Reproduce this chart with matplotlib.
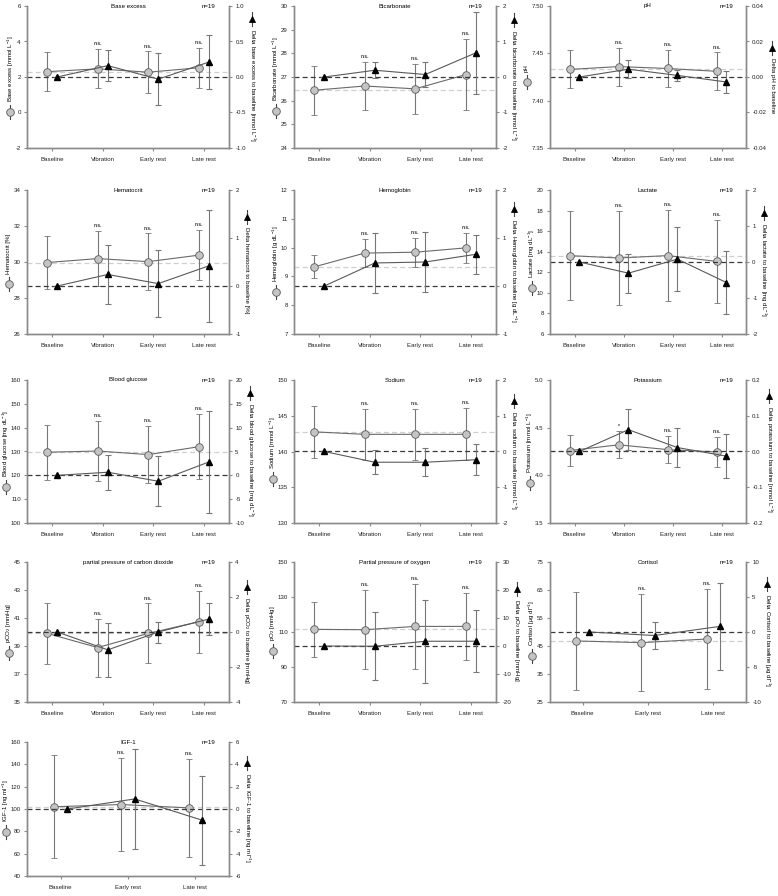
import numpy as np
import matplotlib.pyplot as plt

plt.rcParams['font.family'] = ['Liberation Sans', 'DejaVu Sans']
plt.rcParams['mathtext.fontset'] = 'custom'
plt.rcParams['mathtext.rm'] = 'Liberation Sans'
plt.rcParams['mathtext.it'] = 'Liberation Sans:italic'

cats4 = ['Baseline', 'Vibration', 'Early rest', 'Late rest']
cats3 = ['Baseline', 'Early rest', 'Late rest']
sig4 = ['', 'n.s.', 'n.s.', 'n.s.']
sig3 = ['', 'n.s.', 'n.s.']

# absolute values (circles) and change to baseline (triangles), mean and SD
be_mean = [2.30, 2.46, 2.27, 2.52]
be_sd = [1.10, 1.10, 1.17, 1.13]
be_dmean = [0.0, 0.16, -0.03, 0.21]
be_dsd = [0.0, 0.22, 0.37, 0.38]

hco3_mean = [26.44, 26.62, 26.50, 27.10]
hco3_sd = [1.03, 1.03, 1.06, 1.50]
hco3_dmean = [0.0, 0.19, 0.07, 0.68]
hco3_dsd = [0.0, 0.22, 0.36, 1.15]

ph_mean = [7.433, 7.436, 7.434, 7.431]
ph_sd = [0.020, 0.020, 0.020, 0.020]
ph_dmean = [0.0, 0.0044, 0.0009, -0.0028]
ph_dsd = [0.0, 0.0050, 0.0033, 0.0060]

hct_mean = [29.97, 30.19, 30.02, 30.38]
hct_sd = [1.46, 1.55, 1.57, 1.40]
hct_dmean = [0.0, 0.24, 0.05, 0.42]
hct_dsd = [0.0, 0.61, 0.69, 1.16]

hb_mean = [9.33, 9.81, 9.84, 9.99]
hb_sd = [0.40, 0.50, 0.50, 0.52]
hb_dmean = [0.0, 0.48, 0.50, 0.66]
hb_dsd = [0.0, 0.63, 0.62, 0.40]

lac_mean = [13.62, 13.39, 13.62, 13.06]
lac_sd = [4.30, 4.60, 4.45, 4.00]
lac_dmean = [0.0, -0.31, 0.08, -0.57]
lac_dsd = [0.0, 0.54, 0.88, 0.88]

glu_mean = [129.7, 130.2, 128.7, 132.0]
glu_sd = [11.6, 12.5, 11.9, 13.6]
glu_dmean = [0.0, 0.65, -1.24, 2.8]
glu_dsd = [0.0, 3.7, 5.2, 10.7]

na_mean = [142.75, 142.4, 142.4, 142.4]
na_sd = [3.65, 3.6, 3.6, 3.65]
na_dmean = [0.0, -0.30, -0.30, -0.23]
na_dsd = [0.0, 0.33, 0.39, 0.44]

k_mean = [4.26, 4.32, 4.27, 4.245]
k_sd = [0.16, 0.14, 0.145, 0.155]
k_dmean = [0.0, 0.061, 0.011, -0.013]
k_dsd = [0.0, 0.057, 0.055, 0.061]
k_sig = ['', '*', 'n.s.', 'n.s.']

pco2_mean = [39.9, 38.89, 39.9, 40.73]
pco2_sd = [2.2, 2.07, 2.15, 2.2]
pco2_dmean = [0.0, -1.02, 0.0, 0.74]
pco2_dsd = [0.0, 1.55, 0.6, 0.92]

po2_mean = [111.5, 111.3, 113.2, 113.2]
po2_sd = [15.7, 22.6, 24.3, 19.1]
po2_dmean = [0.0, -0.1, 1.7, 1.7]
po2_dsd = [0.0, 12.1, 14.9, 11.0]

cort_mean = [46.8, 46.2, 47.5]
cort_sd = [17.4, 17.4, 17.8]
cort_dmean = [0.0, -0.5, 0.8]
cort_dsd = [0.0, 1.9, 6.2]

igf_mean = [102.0, 104.0, 101.0]
igf_sd = [46.0, 42.0, 44.0]
igf_dmean = [0.0, 0.9, -1.0]
igf_dsd = [0.0, 4.5, 4.0]

panels = [
    dict(title='Base excess', cats=cats4, m=be_mean, s=be_sd, dm=be_dmean, ds=be_dsd, sig=sig4,
         ylim=(-2, 6), yt=[-2, 0, 2, 4, 6], dylim=(-1, 1), dyt=[-1, -0.5, 0, 0.5, 1], dfmt='{:.1f}', fmt='{:g}',
         yl=r'Base excess [mmol L$^{-1}$]', dyl=r'Delta base excess to baseline [mmol L$^{-1}$]'),
    dict(title='Bicarbonate', cats=cats4, m=hco3_mean, s=hco3_sd, dm=hco3_dmean, ds=hco3_dsd, sig=sig4,
         ylim=(24, 30), yt=range(24, 31), dylim=(-2, 2), dyt=range(-2, 3), dfmt='{:g}', fmt='{:g}',
         yl=r'Bicarbonate [mmol L$^{-1}$]', dyl=r'Delta bicarbonate to baseline [mmol L$^{-1}$]'),
    dict(title='pH', cats=cats4, m=ph_mean, s=ph_sd, dm=ph_dmean, ds=ph_dsd, sig=sig4,
         ylim=(7.35, 7.5), yt=[7.35, 7.40, 7.45, 7.50], dylim=(-0.04, 0.04), dyt=[-0.04, -0.02, 0, 0.02, 0.04],
         dfmt='{:.2f}', fmt='{:.2f}', yl='pH', dyl='Delta pH to baseline'),
    dict(title='Hematocrit', cats=cats4, m=hct_mean, s=hct_sd, dm=hct_dmean, ds=hct_dsd, sig=sig4,
         ylim=(26, 34), yt=range(26, 35, 2), dylim=(-1, 2), dyt=range(-1, 3), dfmt='{:g}', fmt='{:g}',
         yl='Hematocrit [%]', dyl='Delta hematocrit to baseline [%]'),
    dict(title='Hemoglobin', cats=cats4, m=hb_mean, s=hb_sd, dm=hb_dmean, ds=hb_dsd, sig=sig4,
         ylim=(7, 12), yt=range(7, 13), dylim=(-1, 2), dyt=range(-1, 3), dfmt='{:g}', fmt='{:g}',
         yl=r'Hemoglobin [g dL$^{-1}$]', dyl=r'Delta Hemoglobin to baseline [g dL$^{-1}$]'),
    dict(title='Lactate', cats=cats4, m=lac_mean, s=lac_sd, dm=lac_dmean, ds=lac_dsd, sig=sig4,
         ylim=(6, 20), yt=range(6, 21, 2), dylim=(-2, 2), dyt=range(-2, 3), dfmt='{:g}', fmt='{:g}',
         yl=r'Lactate [mg dL$^{-1}$]', dyl=r'Delta lactate to baseline [mg dL$^{-1}$]'),
    dict(title='Blood glucose', cats=cats4, m=glu_mean, s=glu_sd, dm=glu_dmean, ds=glu_dsd, sig=sig4,
         ylim=(100, 160), yt=range(100, 161, 10), dylim=(-10, 20), dyt=range(-10, 21, 5), dfmt='{:g}', fmt='{:g}',
         yl=r'Blood glucose [mg dL$^{-1}$]', dyl=r'Delta blood glucose to baseline [mg dL$^{-1}$]'),
    dict(title='Sodium', cats=cats4, m=na_mean, s=na_sd, dm=na_dmean, ds=na_dsd, sig=sig4,
         ylim=(130, 150), yt=range(130, 151, 5), dylim=(-2, 2), dyt=range(-2, 3), dfmt='{:g}', fmt='{:g}',
         yl=r'Sodium [mmol L$^{-1}$]', dyl=r'Delta sodium to baseline [mmol L$^{-1}$]'),
    dict(title='Potassium', cats=cats4, m=k_mean, s=k_sd, dm=k_dmean, ds=k_dsd, sig=k_sig,
         ylim=(3.5, 5.0), yt=[3.5, 4.0, 4.5, 5.0], dylim=(-0.2, 0.2), dyt=[-0.2, -0.1, 0, 0.1, 0.2],
         dfmt='{:.1f}', fmt='{:.1f}',
         yl=r'Potassium [mmol L$^{-1}$]', dyl=r'Delta potassium to baseline [mmol L$^{-1}$]'),
    dict(title='partial pressure of carbon dioxide', cats=cats4, m=pco2_mean, s=pco2_sd, dm=pco2_dmean,
         ds=pco2_dsd, sig=sig4, ylim=(35, 45), yt=range(35, 46, 2), dylim=(-4, 4), dyt=range(-4, 5, 2),
         dfmt='{:g}', fmt='{:g}', yl=r'pCO$_2$ [mmHg]', dyl=r'Delta pCO$_2$ to baseline [mmHg]'),
    dict(title='Partial pressure of oxygen', cats=cats4, m=po2_mean, s=po2_sd, dm=po2_dmean, ds=po2_dsd,
         sig=sig4, ylim=(70, 150), yt=range(70, 151, 20), dylim=(-20, 30), dyt=range(-20, 31, 10),
         dfmt='{:g}', fmt='{:g}', yl=r'pO$_2$ [mmHg]', dyl=r'Delta pO$_2$ to baseline [mmHg]'),
    dict(title='Cortisol', cats=cats3, m=cort_mean, s=cort_sd, dm=cort_dmean, ds=cort_dsd, sig=sig3,
         ylim=(25, 75), yt=range(25, 76, 10), dylim=(-10, 10), dyt=range(-10, 11, 5), dfmt='{:g}', fmt='{:g}',
         yl=r'Cortisol [$\mu$g dl$^{-1}$]', dyl=r'Delta Cortisol to baseline [$\mu$g dl$^{-1}$]'),
    dict(title='IGF-1', cats=cats3, m=igf_mean, s=igf_sd, dm=igf_dmean, ds=igf_dsd, sig=sig3,
         ylim=(40, 160), yt=range(40, 161, 20), dylim=(-6, 6), dyt=range(-6, 7, 2), dfmt='{:g}', fmt='{:g}',
         yl=r'IGF-1 [ng ml$^{-1}$]', dyl=r'Delta IGF-1 to baseline [ng ml$^{-1}$]'),
]

W, H = 778, 896
fig = plt.figure(figsize=(W / 100, H / 100), dpi=100)

cols = [(27, 229), (294, 496), (550, 746)]
rows = [(6, 148), (190, 334), (380, 523), (562, 702), (742, 876)]

FS = 4.4
SPINE = '#8a8a8a'
labels = []

for i, p in enumerate(panels):
    c0, c1 = cols[i % 3]
    r0, r1 = rows[i // 3]
    ax = fig.add_axes([c0 / W, 1 - r1 / H, (c1 - c0) / W, (r1 - r0) / H])
    ax2 = ax.twinx()
    n = len(p['cats'])
    x = np.arange(n)

    ax.axhline(p['m'][0], color='#cfcfcf', ls='--', lw=0.9, dashes=(4, 2.5), zorder=1)
    ax2.axhline(0, color='#3a3a3a', ls='--', lw=0.9, dashes=(4, 2.5), zorder=1)

    ax.errorbar(x - 0.1, p['m'], yerr=p['s'], fmt='-o', color='#6a6a6a', ecolor='#777777',
                mfc='#c4c4c4', mec='#5a5a5a', ms=5.5, mew=0.6, lw=0.8, elinewidth=0.8,
                capsize=2.3, capthick=0.8, zorder=3)
    ax2.errorbar(x + 0.1, p['dm'], yerr=p['ds'], fmt='-^', color='#5a5a5a', ecolor='#777777',
                 mfc='black', mec='black', ms=5, lw=0.8, elinewidth=0.8,
                 capsize=2.3, capthick=0.8, zorder=3)

    rng = p['ylim'][1] - p['ylim'][0]
    for xi, mi, si, lab in zip(x, p['m'], p['s'], p['sig']):
        if lab:
            ax.text(xi - 0.1, mi + si + 0.02 * rng, lab, ha='center', va='bottom',
                    fontsize=3.5, fontweight='bold', color='#333')

    ax.set_xlim(-0.5, n - 0.5)
    ax.set_ylim(*p['ylim'])
    ax2.set_ylim(*p['dylim'])
    ax.set_xticks(x)
    ax.set_xticklabels(p['cats'])
    ax.set_yticks(list(p['yt']))
    ax.set_yticklabels([p['fmt'].format(v) for v in p['yt']])
    ax2.set_yticks(list(p['dyt']))
    ax2.set_yticklabels([p['dfmt'].format(v) for v in p['dyt']])

    for a in (ax, ax2):
        a.spines['top'].set_visible(False)
        for s in ('left', 'right', 'bottom'):
            a.spines[s].set_color(SPINE)
            a.spines[s].set_linewidth(1.0)
        a.tick_params(axis='both', labelsize=FS, length=2.5, width=0.8, color=SPINE,
                      pad=2, labelcolor='#222')
    ax.tick_params(axis='x', pad=4)

    ax.text(0.5, 1.0, p['title'], transform=ax.transAxes, ha='center', va='center', fontsize=FS)
    ax.text(0.9, 1.0, 'n=19', transform=ax.transAxes, ha='center', va='center', fontsize=FS)

    tl = ax.text(0, 0.5, p['yl'], transform=ax.transAxes, rotation=90,
                 ha='center', va='center', fontsize=FS)
    tr = ax.text(1, 0.5, p['dyl'], transform=ax.transAxes, rotation=270,
                 ha='center', va='center', fontsize=FS)
    labels.append((ax, ax2, tl, tr))

# put the axis titles next to the tick labels, with a small marker key
fig.canvas.draw()
rend = fig.canvas.get_renderer()
for ax, ax2, tl, tr in labels:
    hpx = ax.bbox.height
    wpx = ax.bbox.width
    x0 = min(t.get_window_extent(rend).x0 for t in ax.get_yticklabels())
    x1 = max(t.get_window_extent(rend).x1 for t in ax2.get_yticklabels())
    xl = (x0 - 5 - ax.bbox.x0) / wpx
    xr = (x1 + 6 - ax.bbox.x0) / wpx
    sym = 14 / hpx
    gap = 3 / hpx
    for t, side, xx in ((tl, 'left', xl), (tr, 'right', xr)):
        h = t.get_window_extent(rend).height / hpx
        tot = h + gap + sym
        if side == 'left':
            b = 0.5 - tot / 2
            yc = b + sym / 2
            t.set_position((xx, b + sym + gap))
            t.set_va('bottom')
            mk = dict(marker='o', mfc='#c4c4c4', mec='#5a5a5a', ms=5.5)
        else:
            top = 0.5 + tot / 2
            yc = top - sym / 2
            t.set_position((xx, top - sym - gap))
            t.set_va('top')
            mk = dict(marker='^', mfc='black', mec='black', ms=5)
        ax.plot([xx, xx], [yc - sym / 2, yc + sym / 2], transform=ax.transAxes, clip_on=False,
                color='#444', lw=0.8)
        ax.plot([xx], [yc], transform=ax.transAxes, clip_on=False, mew=0.6, ls='none', **mk)

fig.savefig('out.png', dpi=100, facecolor='white')
